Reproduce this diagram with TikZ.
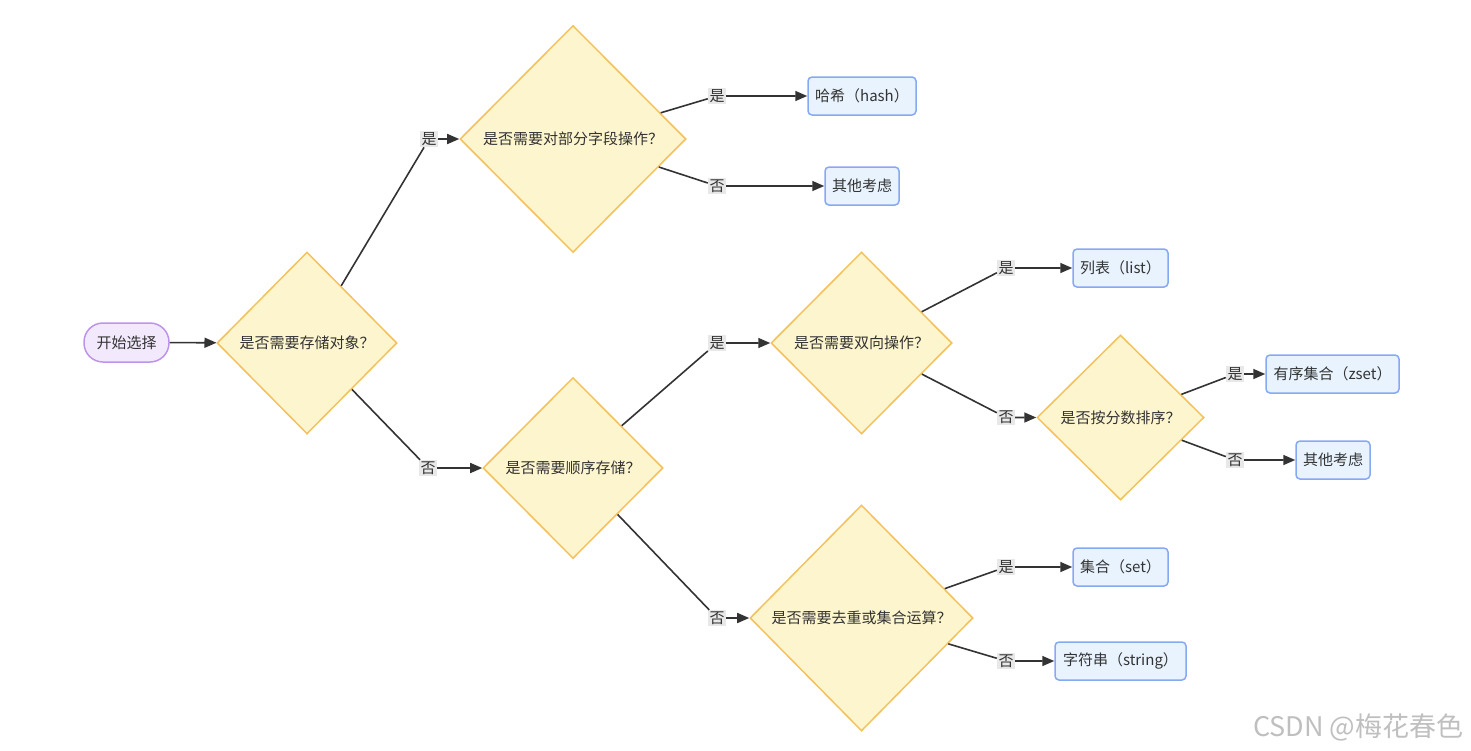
\documentclass[tikz,border=0pt]{standalone}
\usepackage{fontspec}
\setmainfont{Noto Sans CJK SC}
\usetikzlibrary{shapes.geometric,arrows.meta}

\definecolor{lineGray}{HTML}{333333}
\definecolor{textGray}{HTML}{333333}
\definecolor{decFill}{HTML}{FCF5CE}
\definecolor{decLine}{HTML}{F4C15C}
\definecolor{endFill}{HTML}{E8F3FE}
\definecolor{endLine}{HTML}{86A9F3}
\definecolor{startFill}{HTML}{F3E9FC}
\definecolor{startLine}{HTML}{BE94EA}
\definecolor{tagFill}{HTML}{E8E8E8}

\tikzset{
  decision/.style={diamond, draw=decLine, fill=decFill, line width=1.5pt, inner sep=0pt},
  result/.style={rectangle, rounded corners=4pt, draw=endLine, fill=endFill, line width=1.5pt, minimum height=38pt, inner xsep=6pt},
  startnode/.style={rectangle, rounded corners=19pt, draw=startLine, fill=startFill, line width=1.5pt, minimum width=85pt, minimum height=39pt},
  tag/.style={fill=tagFill, inner sep=1.5pt, font=\fontsize{15}{17}\selectfont},
  flow/.style={draw=lineGray, line width=1.6pt, -{Triangle[length=12pt,width=10pt]}}
}

\begin{document}
\begin{tikzpicture}[x=1pt, y=-1pt, text=textGray, font=\fontsize{15}{18}\selectfont]

    % Fix the page to the size of the reference
    \useasboundingbox (0,0) rectangle (1471,750);

    % Start node and the decisions
    \node[startnode] (start) at (126.5,342.5) {开始选择};
    \node[decision, minimum width=180pt, minimum height=182pt] (obj) at (307,343) {是否需要存储对象？};
    \node[decision, minimum width=226pt, minimum height=227pt] (part) at (573,139) {是否需要对部分字段操作？};
    \node[decision, minimum width=180pt, minimum height=181pt] (order) at (573,468) {是否需要顺序存储？};
    \node[decision, minimum width=181pt, minimum height=182pt] (both) at (861.5,343) {是否需要双向操作？};
    \node[decision, minimum width=167pt, minimum height=165pt] (score) at (1120.5,417.5) {是否按分数排序？};
    \node[decision, minimum width=223pt, minimum height=226pt] (uniq) at (861.5,618) {是否需要去重或集合运算？};

    % Results on the right
    \node[result, minimum width=108pt] (hash) at (862,96) {哈希（hash）};
    \node[result, minimum width=74pt] (otherA) at (862,186) {其他考虑};
    \node[result, minimum width=95pt] (list) at (1120.5,268) {列表（list）};
    \node[result, minimum width=133pt] (zset) at (1332.5,374) {有序集合（zset）};
    \node[result, minimum width=74pt] (otherB) at (1333,460) {其他考虑};
    \node[result, minimum width=95pt] (set) at (1120.5,567) {集合（set）};
    \node[result, minimum width=131pt] (str) at (1120.5,661) {字符串（string）};

    % Edge labels (yes / no)
    \node[tag] (yesObj) at (429,139) {是};
    \node[tag] (noObj) at (428,468) {否};
    \node[tag] (yesPart) at (717,96) {是};
    \node[tag] (noPart) at (717,186) {否};
    \node[tag] (yesOrder) at (717,343) {是};
    \node[tag] (noOrder) at (717,618) {否};
    \node[tag] (yesBoth) at (1006,268) {是};
    \node[tag] (noBoth) at (1006,417.5) {否};
    \node[tag] (yesScore) at (1235,374) {是};
    \node[tag] (noScore) at (1235,460) {否};
    \node[tag] (yesUniq) at (1006,567) {是};
    \node[tag] (noUniq) at (1006,661) {否};

    % Connectors
    \draw[flow] (start) -- (obj);
    \draw[flow] (obj) -- (yesObj) -- (part);
    \draw[flow] (obj) -- (noObj) -- (order);
    \draw[flow] (part) -- (yesPart) -- (hash);
    \draw[flow] (part) -- (noPart) -- (otherA);
    \draw[flow] (order) -- (yesOrder) -- (both);
    \draw[flow] (order) -- (noOrder) -- (uniq);
    \draw[flow] (both) -- (yesBoth) -- (list);
    \draw[flow] (both) -- (noBoth) -- (score);
    \draw[flow] (score) -- (yesScore) -- (zset);
    \draw[flow] (score) -- (noScore) -- (otherB);
    \draw[flow] (uniq) -- (yesUniq) -- (set);
    \draw[flow] (uniq) -- (noUniq) -- (str);

    % Watermark in the corner
    \node[anchor=south east, text=black!25, font=\fontsize{27}{30}\selectfont] (mark) at (1467,745) {CSDN @梅花春色};

\end{tikzpicture}
\end{document}
